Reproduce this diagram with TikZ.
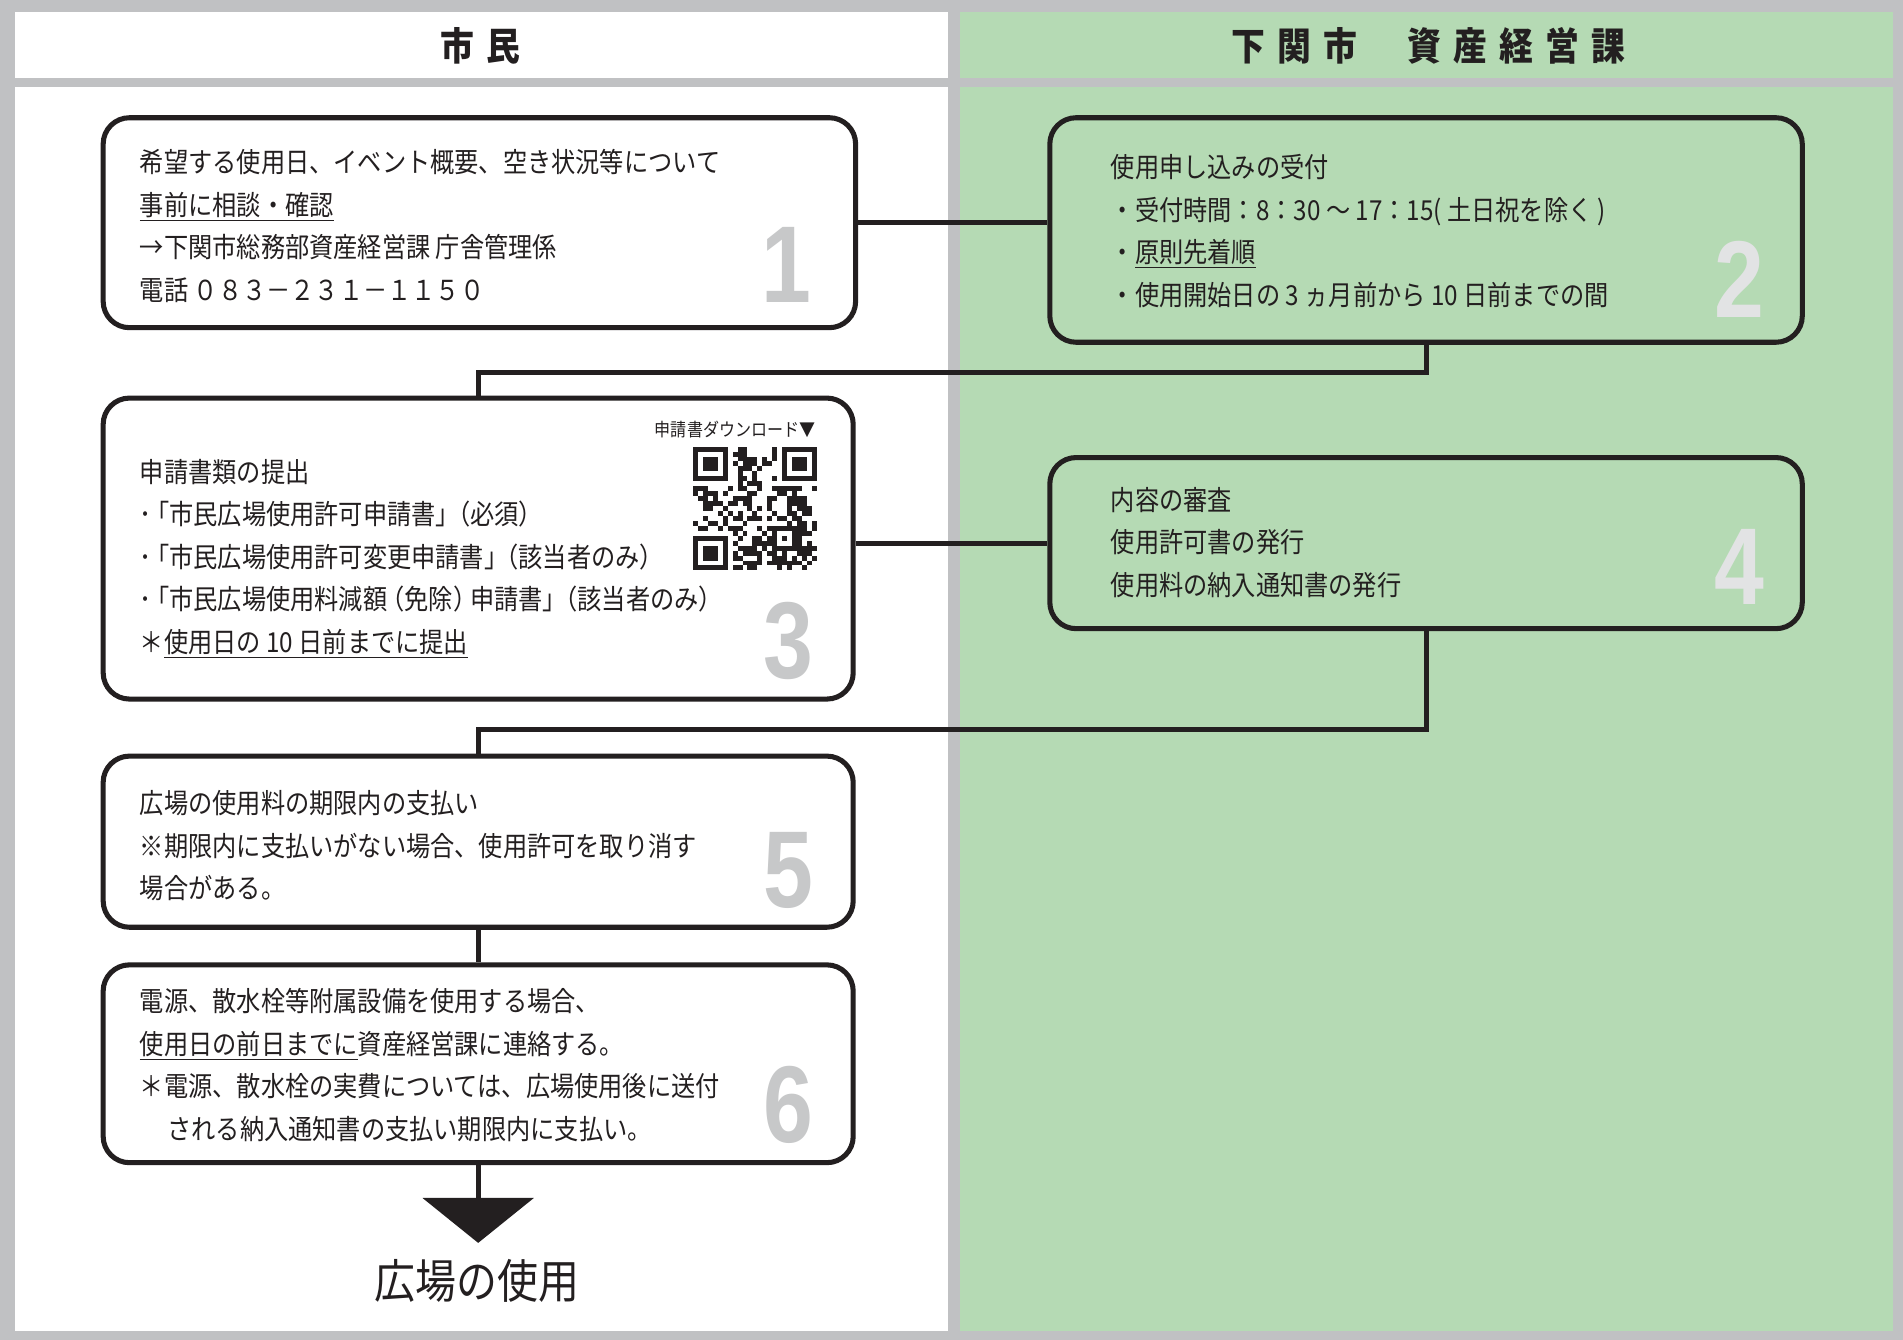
\documentclass[tikz,border=0pt]{standalone}
\usepackage{fontspec}
\usetikzlibrary{fit,arrows.meta}
\newfontfamily\jp{Noto Sans CJK JP}[FakeStretch=0.88]
\newfontfamily\numfont{Liberation Sans}[FakeStretch=0.82]
\definecolor{ink}{RGB}{35,31,32}
\definecolor{framegray}{RGB}{192,193,195}
\definecolor{kgreen}{RGB}{181,218,180}
\definecolor{numgray}{RGB}{199,200,201}
\definecolor{numlight}{RGB}{226,227,228}
\newcommand{\hs}{\hspace{6pt}}
% tighter brackets
\newcommand{\ob}[1]{\hspace{-0.25em}#1}
\newcommand{\cb}[1]{#1\hspace{-0.25em}}

\begin{document}
\begin{tikzpicture}[x=0.6pt,y=-0.6pt,
    box/.style={draw=ink,line width=2.5pt,rounded corners=13pt,inner sep=0pt},
    conn/.style={draw=ink,line width=2.5pt},
    txt/.style={anchor=north west,align=left,inner sep=0pt,text=ink,
        font=\jp\fontsize{13.6}{21}\selectfont},
    num/.style={text=numgray,inner sep=0pt,
        font=\numfont\bfseries\fontsize{54}{54}\selectfont},
    head/.style={text=ink,inner sep=0pt,font=\jp\bfseries\fontsize{19}{19}\selectfont}]
    % columns
    \fill[framegray] (0,0) rectangle (1568,1104);
    \fill[white] (12,10) rectangle (781,64);
    \fill[white] (12,72) rectangle (781,1097);
    \fill[kgreen] (791,10) rectangle (1560,64);
    \fill[kgreen] (791,72) rectangle (1560,1097);
    \node[head] (hcitizen) at (396,38) {市\hs 民};
    \node[head] (hcity) at (1177,38) {下\hs 関\hs 市\hspace{25pt}資\hs 産\hs 経\hs 営\hs 課};

    % boxes
    \node[box,fill=white,fit={(85,97) (705,270)}] (b1) {};
    \node[box,fill=kgreen,fit={(865,97) (1485,282)}] (b2) {};
    \node[box,fill=white,fit={(85,328) (703,576)}] (b3) {};
    \node[box,fill=kgreen,fit={(865,377) (1485,518)}] (b4) {};
    \node[box,fill=white,fit={(85,623) (703,764)}] (b5) {};
    \node[box,fill=white,fit={(85,795) (703,958)}] (b6) {};

    % numbers
    \node[num] (n1) at (648,218) {1};
    \node[num,text=numlight] (n2) at (1433,230) {2};
    \node[num] (n3) at (650,528) {3};
    \node[num,text=numlight] (n4) at (1433,467) {4};
    \node[num] (n5) at (650,717) {5};
    \node[num] (n6) at (650,910) {6};

    % texts
    \node[txt] (t1) at (115,123) {希望する使用日、イベント概要、空き状況等について\\
        \underline{事前に相談・確認}\\
        →下関市総務部資産経営課 庁舎管理係\\
        電話 ０８３－２３１－１１５０};
    \node[txt] (t2) at (915,127) {使用申し込みの受付\\
        ・受付時間：8：30 ～ 17：15( 土日祝を除く )\\
        ・\underline{原則先着順}\\
        ・使用開始日の 3 ヵ月前から 10 日前までの間};
    \node[txt] (t3) at (115,378) {申請書類の提出\\
        ･\ob{「}市民広場使用許可申請書\cb{」}\ob{（}必須\cb{）}\\
        ･\ob{「}市民広場使用許可変更申請書\cb{」}\ob{（}該当者のみ\cb{）}\\
        ･\ob{「}市民広場使用料減額\ob{（}免除\cb{）}申請書\cb{」}\ob{（}該当者のみ\cb{）}\\
        ＊\underline{使用日の 10 日前までに提出}};
    \node[txt] (t4) at (915,401) {内容の審査\\
        使用許可書の発行\\
        使用料の納入通知書の発行};
    \node[txt] (t5) at (115,651) {広場の使用料の期限内の支払い\\
        ※期限内に支払いがない場合、使用許可を取り消す\\
        場合がある。};
    \node[txt] (t6) at (115,814) {電源、散水栓等附属設備を使用する場合、\\
        \underline{使用日の前日までに}資産経営課に連絡する。\\
        ＊電源、散水栓の実費については、広場使用後に送付\\
        \hspace*{1em}される納入通知書の支払い期限内に支払い。};

    % download code
    \node[anchor=east,inner sep=0pt,text=ink,font=\jp\fontsize{9}{9}\selectfont] (dl) at (672,354) {申請書ダウンロード▼};
    \begin{scope}[shift={(571,368)},x=2.448pt,y=-2.448pt]
        \foreach \qx/\qy in {0/0,18/0,0/18}{
            \fill[ink] (\qx,\qy) rectangle ++(7,7);
            \fill[white] (\qx+1,\qy+1) rectangle ++(5,5);
            \fill[ink] (\qx+2,\qy+2) rectangle ++(3,3);
        }
        \fill[ink] (16,16) rectangle ++(5,5);
        \fill[white] (17,17) rectangle ++(3,3);
        \fill[ink] (18,18) rectangle ++(1,1);
        \pgfmathsetseed{42}
        \foreach \i in {0,...,24}{
            \foreach \j in {0,...,24}{
                \pgfmathtruncatemacro{\qfree}{((\i<8 && \j<8) || (\i>16 && \j<8) || (\i<8 && \j>16) || (\i>15 && \i<21 && \j>15 && \j<21)) ? 0 : 1}
                \pgfmathrandominteger{\qbit}{0}{1}
                \ifnum\qfree=1 \ifnum\qbit=1 \fill[ink] (\i,\j) rectangle ++(1,1);\fi\fi
            }
        }
    \end{scope}

    % connectors
    \draw[conn] (b1.east) -- (b1.east -| b2.west);
    \draw[conn] (b2.south) -- ++(0,23) -| (b3.north);
    \draw[conn] (b3.east |- b4.west) -- (b4.west);
    \draw[conn] (b4.south) -- ++(0,81) -| (b5.north);
    \draw[conn] (b5.south) -- (b6.north);
    \draw[conn,-{Triangle[width=54.6pt,length=22.2pt]}] (b6.south) -- ++(0,64) coordinate (tip);
    \node[inner sep=0pt,text=ink,font=\jp\fontsize{23}{23}\selectfont] (use) at (393,1055) {広場の使用};
\end{tikzpicture}
\end{document}
